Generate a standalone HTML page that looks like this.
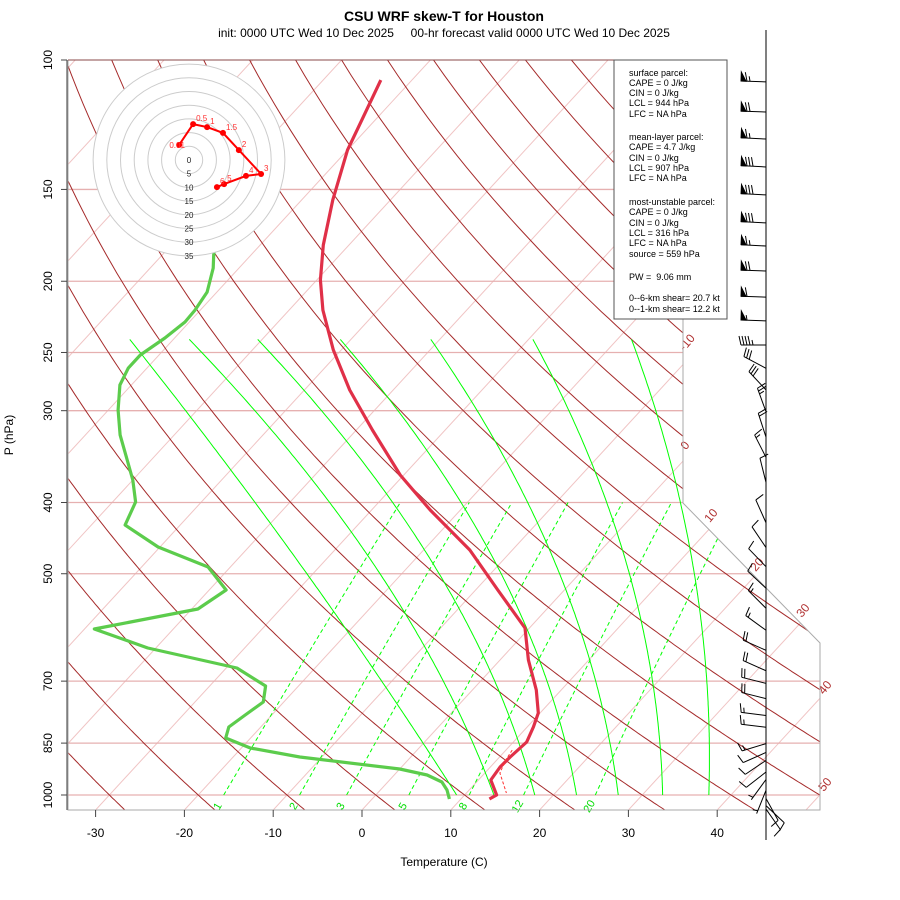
<!DOCTYPE html>
<html><head><meta charset="utf-8"><style>
html,body{margin:0;padding:0;background:#fff;}
svg{display:block;font-family:"Liberation Sans",sans-serif;}
</style></head><body>
<svg id="chart" width="900" height="900" viewBox="0 0 900 900" xmlns="http://www.w3.org/2000/svg">
<defs><clipPath id="plotclip"><polygon points="68,60 683,60 683,503 820,643 820,810 68,810"/></clipPath></defs>
<rect width="900" height="900" fill="#fff"/>
<text x="444" y="21" text-anchor="middle" font-size="14" font-weight="bold">CSU WRF skew-T for Houston</text>
<text x="444" y="37" text-anchor="middle" font-size="12" xml:space="preserve">init: 0000 UTC Wed 10 Dec 2025     00-hr forecast valid 0000 UTC Wed 10 Dec 2025</text>
<g id="bg" clip-path="url(#plotclip)"></g>
<g id="labels"></g>
<g id="axes"></g>
<g id="profiles"></g>
<g id="hodo"></g>
<g id="legend">
<rect x="614" y="60" width="113" height="259" fill="#fff" stroke="#555" stroke-width="1"/>
<g font-size="9" fill="#000">
<text x="629" y="76">surface parcel:</text>
<text x="629" y="86">CAPE = 0 J/kg</text>
<text x="629" y="96">CIN = 0 J/kg</text>
<text x="629" y="106">LCL = 944 hPa</text>
<text x="629" y="117">LFC = NA hPa</text>
<text x="629" y="140">mean-layer parcel:</text>
<text x="629" y="150">CAPE = 4.7 J/kg</text>
<text x="629" y="161">CIN = 0 J/kg</text>
<text x="629" y="171">LCL = 907 hPa</text>
<text x="629" y="181">LFC = NA hPa</text>
<text x="629" y="205">most-unstable parcel:</text>
<text x="629" y="215">CAPE = 0 J/kg</text>
<text x="629" y="226">CIN = 0 J/kg</text>
<text x="629" y="236">LCL = 316 hPa</text>
<text x="629" y="246">LFC = NA hPa</text>
<text x="629" y="257">source = 559 hPa</text>
<text x="629" y="280" xml:space="preserve">PW =  9.06 mm</text>
<text x="629" y="301">0--6-km shear= 20.7 kt</text>
<text x="629" y="312">0--1-km shear= 12.2 kt</text>
</g></g>
<g id="barbs"></g>
</svg>
<script>
// ---- data ----
const tempP=[106.5,120.7,132.6,155,178.5,199.2,218.9,248,281.2,318.7,367,409.5,464.2,526.1,592.6,655.1,719.7,773.5,808.2,847.1,887.8,916,954.1,1000,1012.6];
const tempT=[-73.5,-71.5,-70.0,-66.5,-62.9,-59.6,-56.2,-50.9,-44.9,-38.2,-30.4,-23.4,-14.8,-7.5,-0.5,3.2,7.2,9.8,10.7,11.5,11.2,11.1,11.4,13.6,13.2];
const dewP=[150,184.2,191.9,206.9,218.9,227.2,238.9,252,262.5,276.8,299.4,323.7,350.1,372.8,399.4,429.2,459.9,489.6,526.1,558.4,594.5,631,671.8,710.8,747.3,778.3,808.2,836.6,863.2,887.8,921.8,939.3,960.1,984.5,1012.7];
const dewT=[-80,-74.2,-72.9,-71.1,-70.6,-70.5,-71.1,-72.1,-72.1,-71.3,-68.9,-66.1,-62.7,-60.0,-57.4,-56.2,-50.2,-42.5,-38.1,-39.3,-48.9,-40.9,-28.8,-23.7,-22.3,-23.0,-23.6,-22.8,-19.0,-12.5,0.0,3.7,6.1,7.5,8.7];
const parcelP=[868.7,896.2,933.4,993.8];
const parcelT=[10.7,11.0,11.7,14.5];
const hodoLabels=["0.01","0.5","1","1.5","2","3","4","5","6"];
const hodoU=[-3.6,1.5,6.6,12.4,18.2,26.3,20.8,12.8,10.2];
const hodoV=[5.5,13.1,12.0,9.9,3.6,-5.1,-5.8,-8.8,-9.9];
const windP=[107.1,117.7,128.1,139.8,152.6,166.6,179.1,193.7,210.2,226.4,244.2,262.7,281.1,301.0,325.9,347.2,375.6,426.2,460.6,489.1,523.2,557.1,596.9,635.6,677.6,704.9,739.4,779.5,808.9,851.3,875.2,897.3,930.5,952.6,985.5,1011,1034,1045];
const windDir=[272,272,273,273,273,273,273,272,272,272,270,298,317,340,342,333,346,336,326,316,313,315,306,294,294,284,284,277,277,253,246,236,232,216,202,151,133,145];
const windSpd=[65,70,65,80,80,80,65,70,60,55,45,30,30,25,20,15,10,10,10,10,10,15,15,20,20,20,20,15,15,15,10,10,10,5,5,10,10,10];
const pressTicks=[100,150,200,250,300,400,500,700,850,1000];
const tempTicks=[-30,-20,-10,0,10,20,30,40];
const mixRatios=[1,2,3,5,8,12,20];
const mixLabels=["1","2","3","5","8","12","20"];
const moistStarts=[9.1,13.3,17.9,22.6,27.3,32.3,37.5];
const moistMidT=[-43.9,-35.5,-28.4,-20.7,-13.2,-4.3,4.0];
const moistTopT=[-74.9,-68.2,-60.5,-51.2,-41.0,-29.5,-18.4];

// ---- scales ----
const NS="http://www.w3.org/2000/svg";
function Y(p){return 60+319.2*Math.log(p/100);}
function X(T,p){return 362+8.88*T+0.92*(810-Y(p));}
function mk(tag,attrs,parent){const e=document.createElementNS(NS,tag);for(const k in attrs)e.setAttribute(k,attrs[k]);parent.appendChild(e);return e;}
function pathD(pts){return pts.map((q,i)=>(i?"L":"M")+q[0].toFixed(1)+","+q[1].toFixed(1)).join("");}
const bg=document.getElementById('bg'),lab=document.getElementById('labels'),ax=document.getElementById('axes'),prof=document.getElementById('profiles');

// isotherms
for(let T=-170;T<=60;T+=10){
  const l=mk('line',{x1:X(T,1060),y1:Y(1060),x2:X(T,95),y2:Y(95),stroke:'#f0c4c4','stroke-width':1},bg);
  
  
}
// pressure lines
function rightEdge(y){if(y<=503)return 683;if(y<643)return 683+(y-503);return 820;}
pressTicks.forEach(p=>{const y=Y(p);
  const l=mk('line',{x1:68,y1:y,x2:rightEdge(y),y2:y,stroke:p==100?'#a05050':'#e6b0b0','stroke-width':p==100?1:1.3},bg);
  
  
});
// dry adiabats
for(let th=-30;th<=170;th+=10){const pts=[];
  for(let p=1050;p>=95;p-=5){const T=(th+273.15)*Math.pow(p/1000,0.286)-273.15;pts.push([X(T,p),Y(p)]);}
  const l=mk('path',{d:pathD(pts),fill:'none',stroke:'#a52a2a','stroke-width':1},bg);
  
  
}
// mixing ratio lines
function tdFromW(w,p){const e=w*p/(622+w);const a=Math.log(e/6.112);return 243.5*a/(17.67-a);}
mixRatios.forEach((w,i)=>{const pts=[];for(let p=1000;p>=400;p-=10)pts.push([X(tdFromW(w,p),p),Y(p)]);
  const l=mk('path',{d:pathD(pts),fill:'none',stroke:'#00ff00','stroke-width':1,'stroke-dasharray':'4,3'},bg);
  
  
  if(mixLabels[i]){const x=X(tdFromW(w,1000),1000);
    const t=mk('text',{x:x-3,y:808,'font-size':11,fill:'#00dd00',transform:`rotate(-60 ${x-3} 808)`,'text-anchor':'middle'},lab);
    t.textContent=mixLabels[i];
    
    }
});
// moist adiabats (smooth curve through 1000/400/240 hPa temperatures, quadratic in ln p)
const u1=Math.log(1000/400),u2=Math.log(1000/240);
moistStarts.forEach((T0,k)=>{const T1=moistMidT[k],T2=moistTopT[k];const pts=[];
  for(let p=1000;p>=240;p-=4){const u=Math.log(1000/p);
    const T=T0*(u-u1)*(u-u2)/((0-u1)*(0-u2))+T1*(u-0)*(u-u2)/((u1)*(u1-u2))+T2*(u-0)*(u-u1)/((u2)*(u2-u1));
    pts.push([X(T,p),Y(p)]);}
  const l=mk('path',{d:pathD(pts),fill:'none',stroke:'#00ff00','stroke-width':1},bg);
  
  
});
// border
const bd=mk('polyline',{points:'68,60 683,60 683,503 820,643 820,810 68,810 68,60',fill:'none',stroke:'#aaa','stroke-width':1},ax);


mk('line',{x1:68,y1:60,x2:683,y2:60,stroke:'#8a4a4a','stroke-width':1},ax);
mk('line',{x1:67,y1:60,x2:67,y2:810,stroke:'#666','stroke-width':1.3},ax);
// isotherm labels
[["-10",690,345],["0",688,448],["10",714,518],["20",760,567],["30",806,613],["40",828,690],["50",828,787]].forEach(a=>{
  const t=mk('text',{x:a[1],y:a[2],'font-size':12,fill:'#b03030','text-anchor':'middle',transform:`rotate(-50 ${a[1]} ${a[2]})`},lab);
  t.textContent=a[0];
  
  
});
// y axis ticks
pressTicks.forEach(p=>{const y=Y(p);mk('line',{x1:61,y1:y,x2:67,y2:y,stroke:'#444'},ax);
  const t=mk('text',{x:52,y:y,'font-size':12,'text-anchor':'middle',transform:`rotate(-90 52 ${y})`},ax);
  t.textContent=p;
  
  
});
tempTicks.forEach(T=>{const x=362+8.88*T;mk('line',{x1:x,y1:810,x2:x,y2:817,stroke:'#444'},ax);
  const t=mk('text',{x:x,y:837,'font-size':12,'text-anchor':'middle'},ax);
  t.textContent=T;
  
  
});
const yt=mk('text',{x:13,y:435,'font-size':12,'text-anchor':'middle',transform:'rotate(-90 13 435)'},ax);yt.textContent='P (hPa)';


const xt=mk('text',{x:444,y:866,'font-size':12,'text-anchor':'middle'},ax);xt.textContent='Temperature (C)';



// profiles
const dl=mk('path',{d:pathD(dewP.map((p,i)=>[X(dewT[i],p),Y(p)])),fill:'none',stroke:'#5ccc4c','stroke-width':3.2,'stroke-linejoin':'round'},prof);


const tl=mk('path',{d:pathD(tempP.map((p,i)=>[X(tempT[i],p),Y(p)])),fill:'none',stroke:'#e03048','stroke-width':3.2,'stroke-linejoin':'round'},prof);


const pl=mk('path',{d:pathD(parcelP.map((p,i)=>[X(parcelT[i],p),Y(p)])),fill:'none',stroke:'#ff3030','stroke-width':1,'stroke-dasharray':'3,2'},prof);



// hodograph
const hg=document.getElementById('hodo');const cx=189,cy=160,sc=2.74;
mk('circle',{cx:cx,cy:cy,r:35*sc,fill:'#fff',stroke:'none'},hg);
for(let r=5;r<=35;r+=5){mk('circle',{cx:cx,cy:cy,r:r*sc,fill:'none',stroke:'#ccc','stroke-width':1},hg);}
for(let r=0;r<=35;r+=5){const t=mk('text',{x:cx,y:cy+r*sc+3,'font-size':8,'text-anchor':'middle',fill:'#222'},hg);t.textContent=r;
  
  }
const hp=mk('path',{d:pathD(hodoU.map((u,i)=>[cx+u*sc,cy-hodoV[i]*sc])),fill:'none',stroke:'#ff0000','stroke-width':2},hg);


hodoU.forEach((u,i)=>{const x=cx+u*sc,y=cy-hodoV[i]*sc;
  const c=mk('circle',{cx:x,cy:y,r:3,fill:'#ff0000'},hg);
  
  
  const t=mk('text',{x:x+(i==0?-2:3),y:y-(i==0?-3:3),'font-size':8,fill:'#ff3030','text-anchor':i==0?'middle':'start'},hg);
  t.textContent=hodoLabels[i];
  
  
});

// wind barbs
const bg2=document.getElementById('barbs');
mk('line',{x1:766,y1:30,x2:766,y2:840,stroke:'#000','stroke-width':1},bg2);
windP.forEach((p,i)=>{const bx=766,by=Y(p);const d=windDir[i]*Math.PI/180;
  const sx=Math.sin(d),sy=-Math.cos(d);const L=25;const tx=bx+sx*L,ty=by+sy*L;
  const fx=-sy,fy=sx;const g=mk('g',{stroke:'#000','stroke-width':1,fill:'#000'},bg2);
  
  
  mk('line',{x1:bx,y1:by,x2:tx,y2:ty},g);
  let s=Math.round(windSpd[i]/5)*5;let pos=0;
  while(s>=50){const ax1=tx-sx*pos,ay1=ty-sy*pos,ax2=tx-sx*(pos+5),ay2=ty-sy*(pos+5);
    mk('polygon',{points:`${ax1},${ay1} ${ax1+fx*9},${ay1+fy*9} ${ax2},${ay2}`},g);pos+=6;s-=50;}
  while(s>=10){const x0=tx-sx*pos,y0=ty-sy*pos;mk('line',{x1:x0,y1:y0,x2:x0+fx*9+sx*2,y2:y0+fy*9+sy*2},g);pos+=3;s-=10;}
  if(s>=5){if(pos==0)pos=3;const x0=tx-sx*pos,y0=ty-sy*pos;mk('line',{x1:x0,y1:y0,x2:x0+fx*5+sx*1,y2:y0+fy*5+sy*1},g);}
});
</script>
</body></html>
